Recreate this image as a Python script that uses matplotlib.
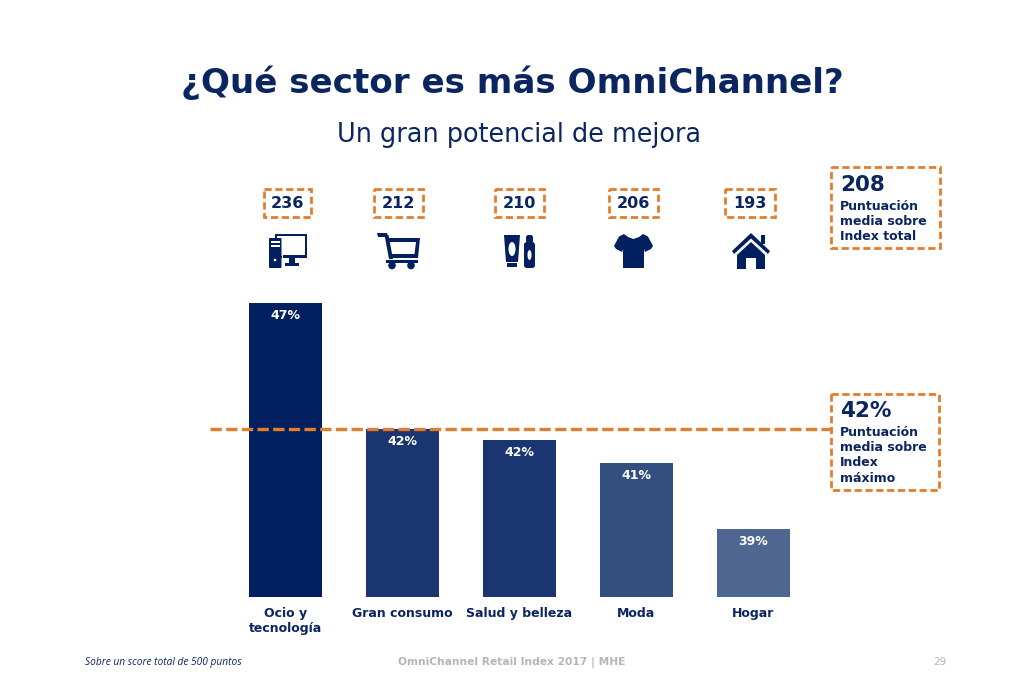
import matplotlib
matplotlib.use("Agg")
import matplotlib.pyplot as plt
from matplotlib.patches import Rectangle, Polygon, Circle, Ellipse, FancyBboxPatch

categories = ["Ocio y\ntecnología", "Gran consumo", "Salud y belleza", "Moda", "Hogar"]
values = [47.0, 42.55, 42.15, 41.35, 39.0]
labels = ["47%", "42%", "42%", "41%", "39%"]
scores = ["236", "212", "210", "206", "193"]
bar_colors = ["#02205F", "#1A356F", "#1A356F", "#354E80", "#4E6690"]
mean_value = 42.55

NAVY = "#0A2560"
ORANGE = "#E27D2E"
W, H = 1024, 695

fig = plt.figure(figsize=(W / 100, H / 100), dpi=100, facecolor="white")
bg = fig.add_axes([0, 0, 1, 1])
bg.set_xlim(0, W); bg.set_ylim(H, 0); bg.axis("off")

# bars
ax = fig.add_axes([227 / W, 1 - 597 / H, 585 / W, 294 / H])
ax.set_xlim(-0.5, 4.5); ax.set_ylim(36.6, 47.0)
ax.axis("off"); ax.patch.set_alpha(0)
xs = list(range(len(values)))
ax.bar(xs, values, width=0.625, color=bar_colors, zorder=2)
for x, v, l in zip(xs, values, labels):
    ax.annotate(l, (x, v), xytext=(0, -9), textcoords="offset points", ha="center", va="center",
                color="white", fontsize=9, fontweight="bold", zorder=4)
for x, c in zip(xs, categories):
    ax.annotate(c, (x, 36.6), xytext=(0, -7.5), textcoords="offset points", ha="center", va="top",
                color=NAVY, fontsize=9, fontweight="bold", linespacing=1.2, annotation_clip=False)
ax.plot([-0.645, 4.667], [mean_value] * 2, color=ORANGE, lw=2.4, ls=(0, (3.4, 1.3)), zorder=3, clip_on=False)

# titles
bg.text(512, 83, "¿Qué sector es más OmniChannel?", ha="center", va="center",
        fontsize=24.6, fontweight="bold", color=NAVY)
bg.text(519, 135, "Un gran potencial de mejora", ha="center", va="center", fontsize=18.4, color=NAVY)

def dbox(x0, y0, x1, y1, lw=2):
    bg.add_patch(Rectangle((x0, y0), x1 - x0, y1 - y0, fill=False, ec=ORANGE, lw=lw,
                           ls=(0, (2.6, 1.3))))

# score boxes
box_x = [(264, 311), (374, 423), (495, 544), (609, 658), (725, 775)]
for (a, b), s in zip(box_x, scores):
    dbox(a, 189, b, 217)
    bg.text((a + b) / 2, 203, s, ha="center", va="center", fontsize=11.5, fontweight="bold", color=NAVY)

# side boxes
dbox(831, 167, 940, 248)
bg.text(840, 191, "208", ha="left", va="baseline", fontsize=15.5, fontweight="bold", color=NAVY)
for y, t in zip([209.5, 225, 240.5], ["Puntuación", "media sobre", "Index total"]):
    bg.text(840, y, t, ha="left", va="baseline", fontsize=9, fontweight="bold", color=NAVY)
dbox(831, 394, 939, 490)
bg.text(840, 417, "42%", ha="left", va="baseline", fontsize=15.5, fontweight="bold", color=NAVY)
for y, t in zip([436, 451, 466, 481.5], ["Puntuación", "media sobre", "Index", "máximo"]):
    bg.text(840, y, t, ha="left", va="baseline", fontsize=9, fontweight="bold", color=NAVY)

# footer
bg.text(85, 662, "Sobre un score total de 500 puntos", ha="left", va="center", fontsize=7.3,
        style="italic", color=NAVY, family="Open Sans")
bg.text(512, 662, "OmniChannel Retail Index 2017 | MHE", ha="center", va="center", fontsize=7.7,
        fontweight="bold", color="#B5B5B5")
bg.text(940, 662, "29", ha="center", va="center", fontsize=7.5, color="#B5B5B5")

IC = "#02205F"
def rect(x0, y0, x1, y1, c=IC):
    bg.add_patch(Rectangle((x0, y0), x1 - x0, y1 - y0, fc=c, ec="none"))
def poly(pts, c=IC):
    bg.add_patch(Polygon(pts, closed=True, fc=c, ec="none"))
def rrect(x0, y0, x1, y1, r=1.5, c=IC):
    bg.add_patch(FancyBboxPatch((x0 + r, y0 + r), x1 - x0 - 2 * r, y1 - y0 - 2 * r,
                                boxstyle=f"round,pad={r}", fc=c, ec="none"))

# computer
rrect(275, 234, 307, 258)
rect(277, 236, 305, 255.5, "white")
rect(283, 255, 305, 258)
rect(285, 236, 304.5, 254.5, "white")
rect(275, 234, 307, 236)
rect(304.5, 234, 307, 258)
rrect(269, 238, 281.5, 268, r=1)
rect(271, 241, 279.5, 243, "white"); rect(271, 245, 279.5, 247, "white")
bg.add_patch(Circle((275, 260), 1.3, fc="white", ec="none"))
rect(281.5, 238, 283, 268, "white")
rect(289, 258, 295, 263)
rect(285, 263, 299, 266)

# cart
poly([(377, 233), (387, 233), (388, 237), (378, 237)])
poly([(384.5, 235), (388.5, 235), (393, 259), (389, 259)])
poly([(387, 238), (420, 238), (418, 258), (389, 258), (389, 254), (414.5, 254), (416, 242), (387, 242)])
rect(386, 260, 418, 262.5)
bg.add_patch(Circle((392, 265.5), 3.8, fc=IC, ec="none"))
bg.add_patch(Circle((411, 265.5), 3.8, fc=IC, ec="none"))

# cosmetics
poly([(504, 235), (520, 235), (518, 262), (506, 262)])
rect(507, 262.5, 517, 267)
bg.add_patch(Ellipse((512, 249), 7, 14, fc="white", ec="none"))
rrect(524, 242, 535, 268, r=2.8)
rrect(526, 235, 533, 243, r=2.5)
bg.add_patch(Ellipse((529.5, 255), 4, 10, fc="white", ec="none"))

# shirt
poly([(624, 234), (628, 237), (633.5, 239), (639, 237), (643, 234), (648, 236.5), (653, 246),
      (651, 249), (645, 252), (644, 249), (644, 268), (623, 268), (623, 249), (622, 252),
      (616, 249), (614, 246), (619, 236.5)])

# house
poly([(751, 233), (770, 251), (768, 254), (751, 238.5), (734, 254), (732, 251)])
rect(761, 235, 765, 244)
poly([(751, 242), (765, 255), (765, 269), (756, 269), (756, 258), (746, 258), (746, 269),
      (737, 269), (737, 255)])

fig.savefig("out.png", dpi=100, facecolor="white")
